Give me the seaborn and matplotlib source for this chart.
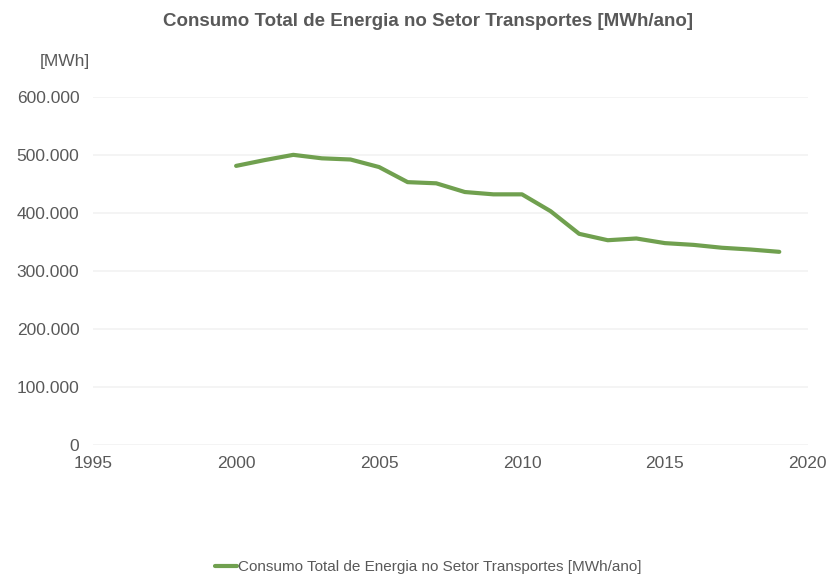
import pandas as pd
import matplotlib
matplotlib.use('Agg')
import matplotlib.pyplot as plt
import matplotlib.ticker as mticker
import seaborn as sns

# data
years = [2000, 2001, 2002, 2003, 2004, 2005, 2006, 2007, 2008, 2009,
         2010, 2011, 2012, 2013, 2014, 2015, 2016, 2017, 2018, 2019]
consumo = [481000, 491000, 500000, 494000, 492000, 479000, 453000, 451000, 436000, 432000,
           432000, 403000, 364000, 353000, 356000, 348000, 345000, 340000, 337000, 333000]
serie = 'Consumo Total de Energia no Setor Transportes [MWh/ano]'

df = pd.DataFrame({'Ano': years, 'Consumo': consumo})

sns.set_style('white')
plt.rcParams['font.family'] = ['Liberation Sans', 'DejaVu Sans']
text_color = '#595959'
green = '#70a04f'

fig = plt.figure(figsize=(8.32, 5.76), dpi=100)
ax = fig.add_axes([0.112, 0.227, 0.859, 0.605])

sns.lineplot(data=df, x='Ano', y='Consumo', ax=ax, color=green, linewidth=3.0, label=serie)

ax.set_xlim(1995, 2020)
ax.set_ylim(0, 600000)
ax.set_xticks([1995, 2000, 2005, 2010, 2015, 2020])
ax.set_yticks(range(0, 600001, 100000))
ax.yaxis.set_major_formatter(mticker.FuncFormatter(lambda v, p: f'{int(v):,}'.replace(',', '.')))
ax.grid(axis='y', color='#f2f2f2', linewidth=1.2)
ax.set_axisbelow(True)
for s in ax.spines.values():
    s.set_visible(False)
ax.tick_params(axis='both', length=0, labelsize=12.5, colors=text_color)
ax.tick_params(axis='y', pad=10)
ax.tick_params(axis='x', pad=8)
ax.set_xlabel('')
ax.set_ylabel('')

fig.text(0.515, 0.962, 'Consumo Total de Energia no Setor Transportes [MWh/ano]',
         ha='center', va='center', fontsize=13.5, fontweight='bold', color=text_color)
fig.text(0.108, 0.893, '[MWh]', ha='right', va='center', fontsize=12.5, color=text_color)

leg = ax.legend(loc='center', bbox_to_anchor=(0.515, 0.015), bbox_transform=fig.transFigure,
                frameon=False, fontsize=11, handlelength=1.4, handletextpad=0.1)
for t in leg.get_texts():
    t.set_color(text_color)

fig.savefig('out.png', dpi=100)
